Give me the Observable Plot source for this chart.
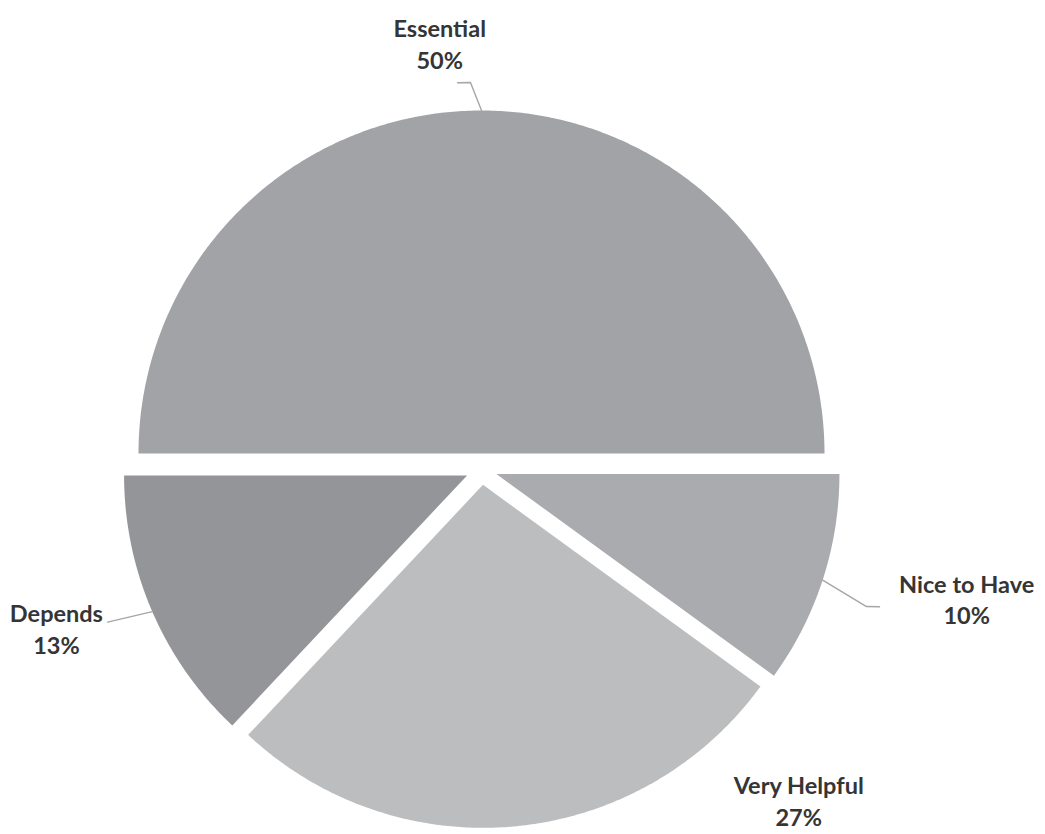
<!DOCTYPE html>
<html>
<head>
<meta charset="utf-8">
<script src="https://cdn.jsdelivr.net/npm/d3@7"></script>
<script src="https://cdn.jsdelivr.net/npm/@observablehq/plot@0.6"></script>
<style>
  html, body { margin: 0; padding: 0; background: #ffffff; }
  #chart svg { display: block; }
</style>
</head>
<body>
<div id="chart"></div>
<script>
// ---- data ----
const categories = ["Essential", "Nice to Have", "Very Helpful", "Depends"];
const values = [50, 10, 27, 13];
const sliceColors = ["#a1a3a6", "#aaabae", "#bcbdbf", "#949598"];

// ---- layout (label / leader placement in polar units of the radius) ----
const labelAngles = [-5.6, 104.9, 136.2, 249.5];
const labelDists = [1.252, 1.468, 1.340, 1.327];
const leaderBends = [
  [[-1.7, 1.082], [-3.7, 1.083]],
  [[109.7, 1.146], [109.1, 1.182]],
  [],
  [[247.8, 1.132]]
];

const W = 1045, H = 834;
const R = 343;               // pie radius, px
const CX = 481, CY = 468.7;  // pie centre, px
const explode = 15.7 / R;

const rad = (deg) => deg * Math.PI / 180;
const polar = (a, rho, off) => ({x: off.x + rho * Math.sin(a), y: off.y + rho * Math.cos(a)});

const pie = d3.pie().sort(null).startAngle(-Math.PI / 2).endAngle(1.5 * Math.PI);
const arcs = pie(values);

const slicePts = [];
const leaderPts = [];
const labels = [];
arcs.forEach((a, i) => {
  const name = categories[i];
  const mid = (a.startAngle + a.endAngle) / 2;
  const off = {x: explode * Math.sin(mid), y: explode * Math.cos(mid)};
  slicePts.push({name, x: off.x, y: off.y});
  const n = Math.max(8, Math.ceil((a.endAngle - a.startAngle) / rad(0.5)));
  for (let k = 0; k <= n; k++) {
    const t = a.startAngle + (a.endAngle - a.startAngle) * k / n;
    const p = polar(t, 1, off);
    slicePts.push({name, x: p.x, y: p.y});
  }
  if (leaderBends[i].length) {
    const s = polar(mid, 1, off);
    leaderPts.push({name, x: s.x, y: s.y});
    leaderBends[i].forEach(([deg, rho]) => {
      const p = polar(rad(deg), rho, off);
      leaderPts.push({name, x: p.x, y: p.y});
    });
  }
  const lp = polar(rad(labelAngles[i]), labelDists[i] * 342 / R, {x: 0, y: 0});
  const pct = Math.round(100 * values[i] / d3.sum(values));
  labels.push({name, x: lp.x, y: lp.y, text: `${name}\n${pct}%`});
});

const chart = Plot.plot({
  width: W,
  height: H,
  margin: 0,
  style: {background: "#ffffff"},
  x: {domain: [-CX / R, (W - CX) / R], axis: null},
  y: {domain: [-(H - CY) / R, CY / R], axis: null},
  color: {domain: categories, range: sliceColors},
  marks: [
    Plot.line(slicePts, {x: "x", y: "y", z: "name", fill: "name", stroke: "none", curve: "linear"}),
    Plot.line(leaderPts, {x: "x", y: "y", z: "name", stroke: "#a6a6a6", strokeWidth: 1.4, curve: "linear"}),
    Plot.text(labels, {
      x: "x", y: "y", text: "text",
      textAnchor: "middle", lineAnchor: "middle", lineHeight: 1.36,
      fontSize: 23.5, fontWeight: "bold", fontFamily: "Lato, 'Open Sans', sans-serif",
      fill: "#353535"
    })
  ]
});
document.getElementById("chart").appendChild(chart);
</script>
</body>
</html>
